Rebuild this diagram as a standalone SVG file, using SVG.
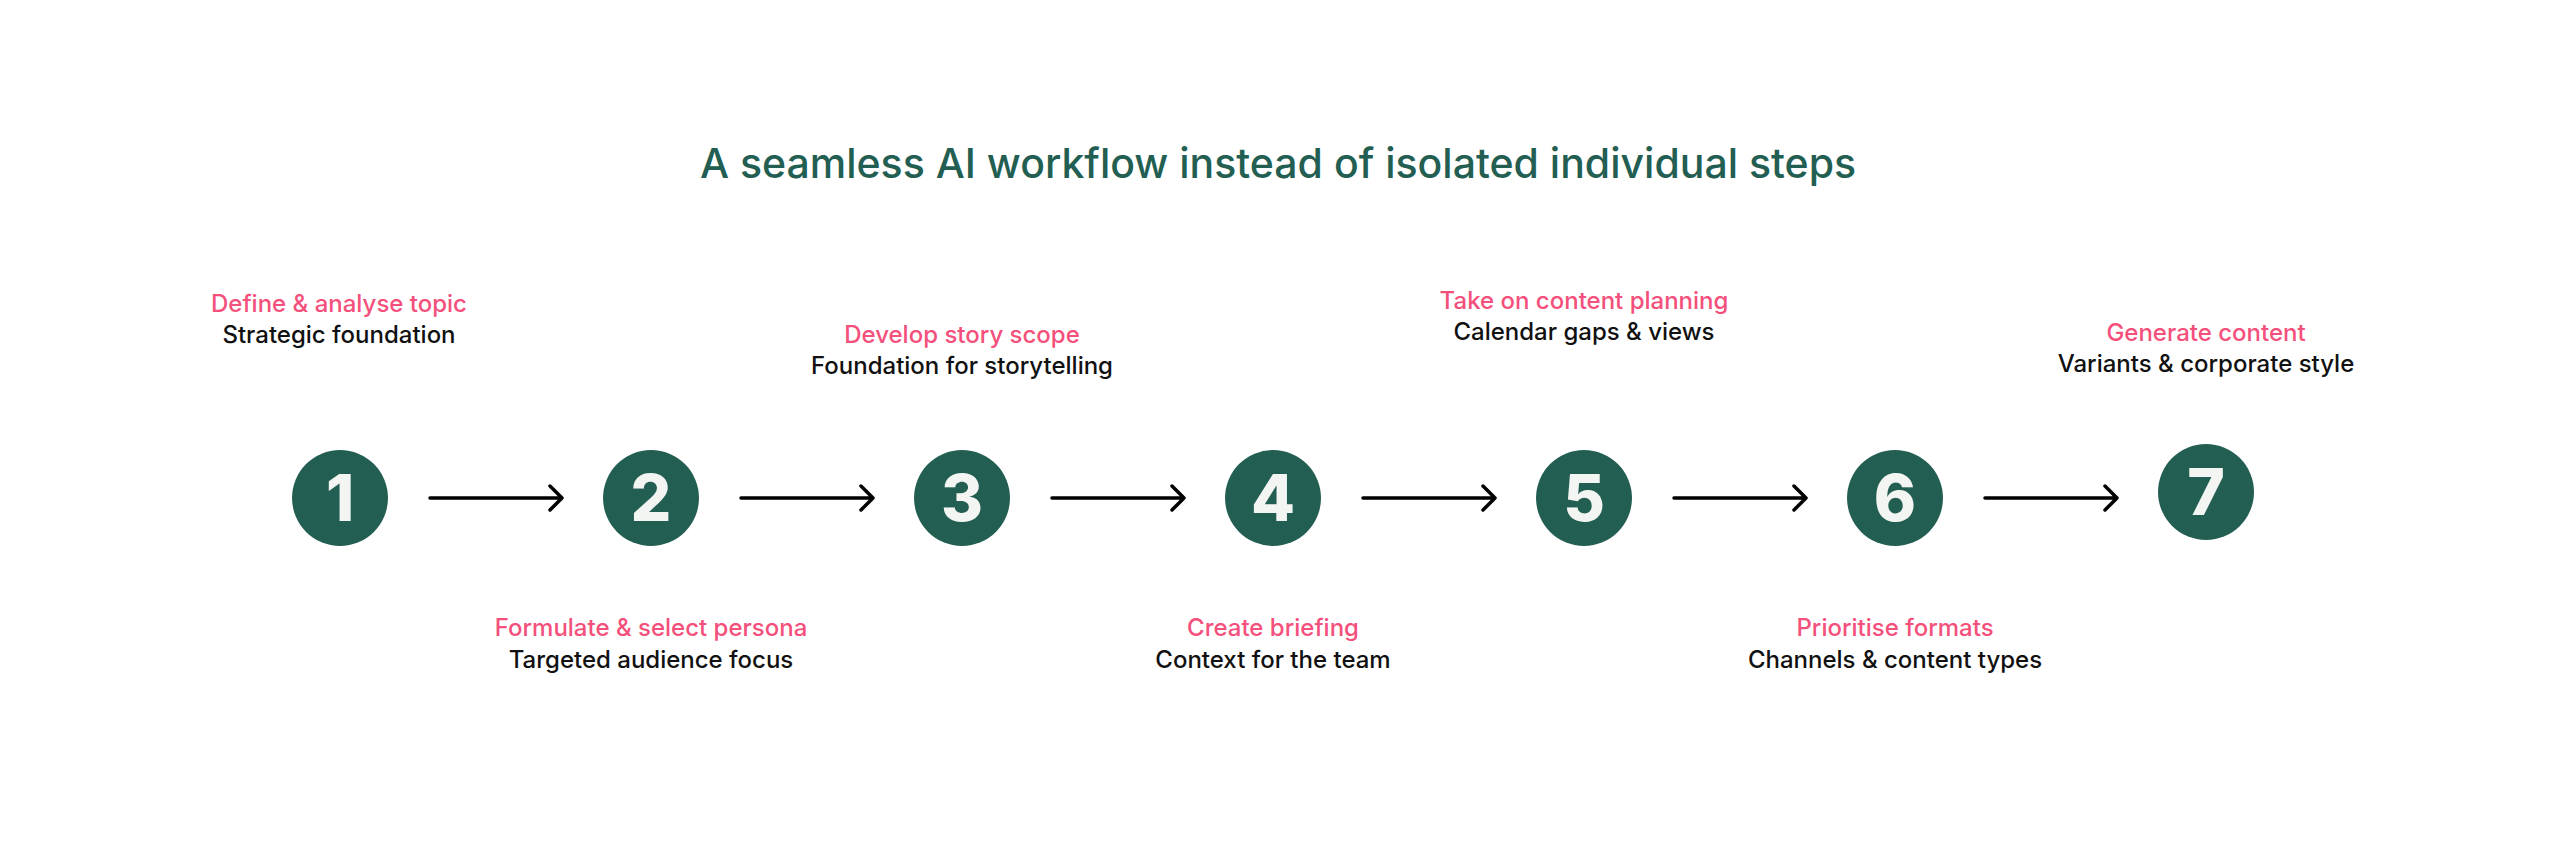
<svg xmlns="http://www.w3.org/2000/svg" width="2560" height="858" viewBox="0 0 2560 858">
<defs>
<style>
.t{font-family:Inter,"Noto Sans",sans-serif;font-weight:500;font-size:41px;fill:#235E52;text-anchor:middle}
.p{font-family:Inter,"Noto Sans",sans-serif;font-weight:500;font-size:24px;fill:#F4507C;text-anchor:middle}
.b{font-family:Inter,"Noto Sans",sans-serif;font-weight:500;font-size:24px;fill:#111;text-anchor:middle}
.c{fill:#235E52}
.n{font-family:Inter,"Noto Sans",sans-serif;font-weight:800;font-size:64px;fill:#F3F5F2;text-anchor:middle}
.a{stroke:#000;stroke-width:3.5;fill:none;stroke-linecap:round;stroke-linejoin:round}
</style>
</defs>
<rect width="2560" height="858" fill="#fff"/>
<text class="t" x="1278" y="178">A seamless AI workflow instead of isolated individual steps</text>
<g id="connectors">
<path class="a" d="M430 498H562M550 486L562 498L550 510"/>
<path class="a" d="M741 498H873M861 486L873 498L861 510"/>
<path class="a" d="M1052 498H1184M1172 486L1184 498L1172 510"/>
<path class="a" d="M1363 498H1495M1483 486L1495 498L1483 510"/>
<path class="a" d="M1674 498H1806M1794 486L1806 498L1794 510"/>
<path class="a" d="M1985 498H2117M2105 486L2117 498L2105 510"/>
</g>
<g id="step1"><circle class="c" cx="340" cy="498" r="48"/><text class="n" x="340" y="521">1</text>
<text class="p" x="339" y="312">Define &amp; analyse topic</text><text class="b" x="339" y="343">Strategic foundation</text></g>
<g id="step2"><circle class="c" cx="651" cy="498" r="48"/><text class="n" x="651" y="521">2</text>
<text class="p" x="651" y="636">Formulate &amp; select persona</text><text class="b" x="651" y="668">Targeted audience focus</text></g>
<g id="step3"><circle class="c" cx="962" cy="498" r="48"/><text class="n" x="962" y="521">3</text>
<text class="p" x="962" y="343">Develop story scope</text><text class="b" x="962" y="374">Foundation for storytelling</text></g>
<g id="step4"><circle class="c" cx="1273" cy="498" r="48"/><text class="n" x="1273" y="521">4</text>
<text class="p" x="1273" y="636">Create briefing</text><text class="b" x="1273" y="668">Context for the team</text></g>
<g id="step5"><circle class="c" cx="1584" cy="498" r="48"/><text class="n" x="1584" y="521">5</text>
<text class="p" x="1584" y="309">Take on content planning</text><text class="b" x="1584" y="340">Calendar gaps &amp; views</text></g>
<g id="step6"><circle class="c" cx="1895" cy="498" r="48"/><text class="n" x="1895" y="521">6</text>
<text class="p" x="1895" y="636">Prioritise formats</text><text class="b" x="1895" y="668">Channels &amp; content types</text></g>
<g id="step7"><circle class="c" cx="2206" cy="492" r="48"/><text class="n" x="2206" y="515">7</text>
<text class="p" x="2206" y="341">Generate content</text><text class="b" x="2206" y="372">Variants &amp; corporate style</text></g>
</svg>
